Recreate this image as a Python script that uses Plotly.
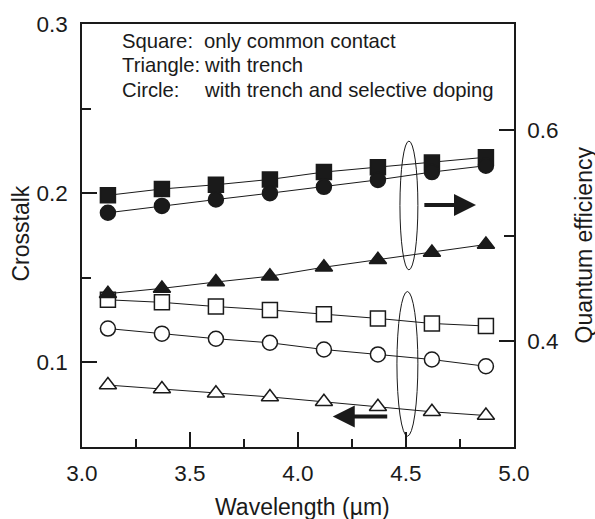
import plotly.graph_objects as go

wavelength = [3.12, 3.37, 3.62, 3.87, 4.12, 4.37, 4.62, 4.87]

# Quantum efficiency (right axis, filled markers)
qe_square = [0.538, 0.544, 0.548, 0.553, 0.560, 0.5645, 0.569, 0.574]
qe_circle = [0.5215, 0.528, 0.534, 0.540, 0.546, 0.5526, 0.560, 0.566]
qe_triangle = [0.445, 0.450, 0.456, 0.4615, 0.470, 0.477, 0.484, 0.4915]

# Crosstalk (left axis, open markers)
ct_square = [0.137, 0.1355, 0.133, 0.131, 0.1285, 0.126, 0.123, 0.1215]
ct_circle = [0.120, 0.117, 0.114, 0.1116, 0.1076, 0.1047, 0.1017, 0.0977]
ct_triangle = [0.0866, 0.0843, 0.0818, 0.0796, 0.0767, 0.0738, 0.0708, 0.0686]

legend_labels = ["Square:", "Triangle:", "Circle:"]
legend_texts = ["only common contact", "with trench", "with trench and selective doping"]

FONT = "Liberation Sans, Arial, sans-serif"
INK = "#1a1a1a"

fig = go.Figure()

def add(y, symbol, filled, axis):
    fig.add_trace(go.Scatter(
        x=wavelength, y=y, mode="lines+markers", yaxis=axis,
        line=dict(color=INK, width=1),
        marker=dict(symbol=symbol, size=15,
                    color=INK if filled else "white",
                    line=dict(color=INK, width=1.5)),
        showlegend=False,
    ))

add(ct_square, "square", False, "y")
add(ct_circle, "circle", False, "y")
add(ct_triangle, "triangle-up", False, "y")
add(qe_square, "square", True, "y2")
add(qe_circle, "circle", True, "y2")
add(qe_triangle, "triangle-up", True, "y2")

# ellipses grouping the curves
fig.add_shape(type="circle", xref="x", yref="y", x0=4.472, x1=4.555, y0=0.1547, y1=0.2308,
              line=dict(color=INK, width=1))
fig.add_shape(type="circle", xref="x", yref="y", x0=4.458, x1=4.555, y0=0.0564, y1=0.1419,
              line=dict(color=INK, width=1))

# arrows
fig.add_annotation(x=4.824, y=0.193, ax=4.578, ay=0.193, xref="x", yref="y", axref="x", ayref="y",
                   showarrow=True, arrowhead=2, arrowsize=1.1, arrowwidth=4, arrowcolor=INK, text="")
fig.add_annotation(x=4.161, y=0.068, ax=4.42, ay=0.068, xref="x", yref="y", axref="x", ayref="y",
                   showarrow=True, arrowhead=2, arrowsize=1.1, arrowwidth=4, arrowcolor=INK, text="")

# legend-like text block
ys = [0.2901, 0.2756, 0.2610]
for lab, txt, yy in zip(legend_labels, legend_texts, ys):
    fig.add_annotation(x=3.178, y=yy, xref="x", yref="y", text=lab, showarrow=False,
                       xanchor="left", yanchor="middle", font=dict(size=20.3, family=FONT, color=INK))
    fig.add_annotation(x=3.555, y=yy, xref="x", yref="y", text=txt, showarrow=False,
                       xanchor="left", yanchor="middle", font=dict(size=20.3, family=FONT, color=INK))

# axis titles
TF = dict(size=23, family=FONT, color=INK)
fig.add_annotation(x=0, y=0.5, xref="paper", yref="paper", text="Crosstalk", textangle=-90,
                   showarrow=False, xanchor="center", yanchor="middle", xshift=-62, yshift=2, font=TF)
fig.add_annotation(x=1, y=0.5, xref="paper", yref="paper", text="Quantum efficiency", textangle=-90,
                   showarrow=False, xanchor="center", yanchor="middle", xshift=69, yshift=-10, font=TF)
fig.add_annotation(x=0.5, y=0, xref="paper", yref="paper", text="Wavelength (µm)",
                   showarrow=False, xanchor="center", yanchor="middle", xshift=4, yshift=-60, font=TF)

axis_common = dict(showline=True, linecolor=INK, linewidth=1.5, showgrid=False, zeroline=False,
                   ticks="inside", tickcolor=INK, tickwidth=1.5, ticklen=15,
                   tickfont=dict(size=22.5, family=FONT, color=INK))

fig.update_layout(
    width=595, height=519,
    margin=dict(l=82, r=81, t=18, b=72),
    paper_bgcolor="white", plot_bgcolor="white",
    font=dict(family=FONT, color=INK),
    xaxis=dict(**axis_common, range=[3.0, 5.0], dtick=0.5, tick0=3.0, tickformat=".1f",
               mirror=True, ticklabelstandoff=5,
               minor=dict(ticks="inside", dtick=0.25, ticklen=8, tickcolor=INK, tickwidth=1.5)),
    yaxis=dict(**axis_common, range=[0.05, 0.3], dtick=0.1, tick0=0.1, tickformat=".1f",
               ticklabelstandoff=8,
               minor=dict(ticks="inside", dtick=0.05, ticklen=9, tickcolor=INK, tickwidth=1.5)),
    yaxis2=dict(**axis_common, range=[0.3, 0.7], dtick=0.2, tick0=0.4, tickformat=".1f",
                overlaying="y", side="right", ticklabelstandoff=7,
                minor=dict(ticks="inside", dtick=0.1, ticklen=10, tickcolor=INK, tickwidth=1.5)),
)

fig.write_html("out.html")
